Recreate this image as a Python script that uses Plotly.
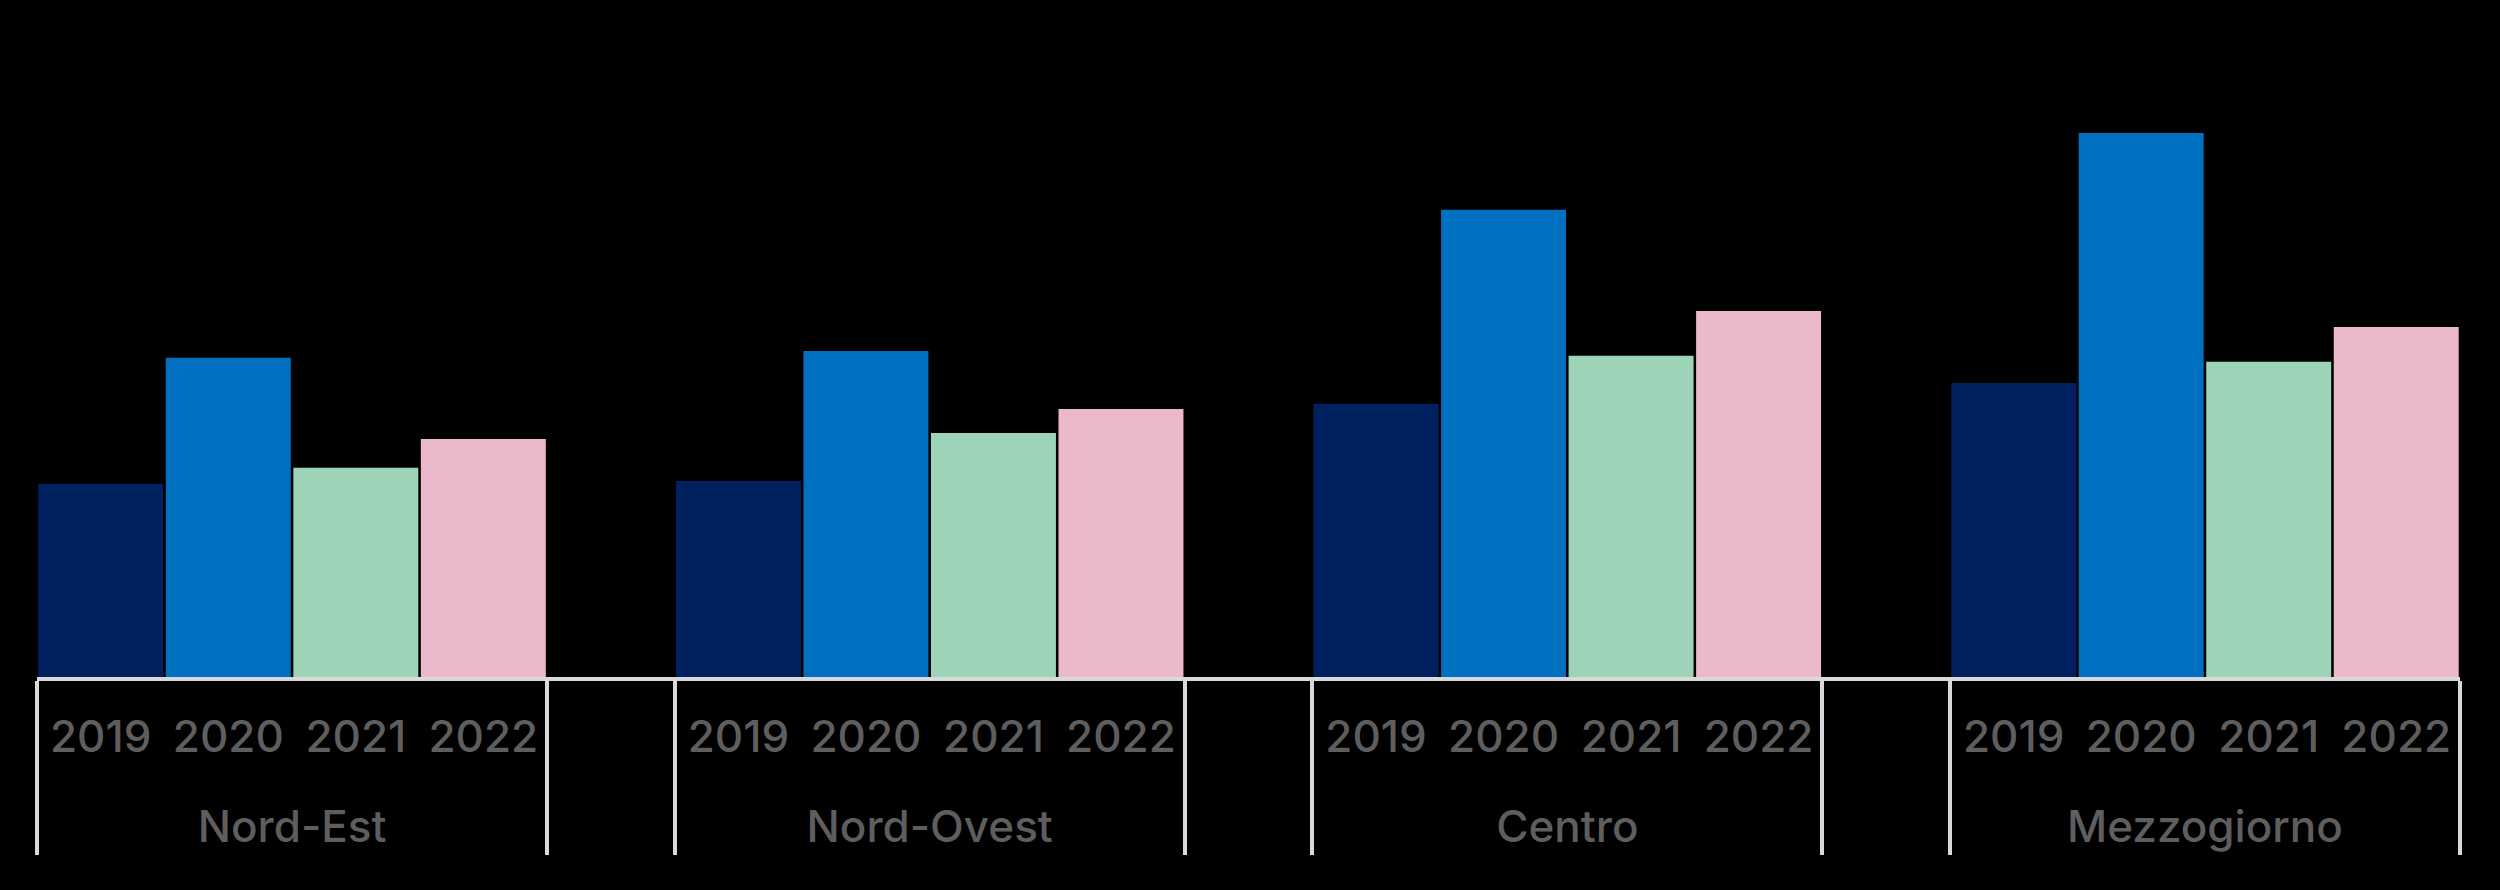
import plotly.graph_objects as go

regions = ["Nord-Est", "Nord-Ovest", "Centro", "Mezzogiorno"]
years = ["2019", "2020", "2021", "2022"]
year_colors = ["#002060", "#0070C0", "#9DD3B6", "#ECB8CC"]

# values per year, one entry per region (order of `regions`)
v2019 = [4.83, 4.90, 6.83, 7.35]
v2020 = [7.98, 8.15, 11.68, 13.60]
v2021 = [5.23, 6.10, 8.03, 7.88]
v2022 = [5.95, 6.70, 9.15, 8.75]
series = [v2019, v2020, v2021, v2022]

LBL = "<span style='font-size:44px'>{}</span>"
PAD = "<br><span style='font-size:100px'>\u00a0</span>"

lvl0, lvl1, yv, cols = [], [], [], []
for i, r in enumerate(regions):
    for j, yr in enumerate(years):
        lvl0.append(LBL.format(r))
        lvl1.append(LBL.format(yr) + PAD)
        yv.append(series[j][i])
        cols.append(year_colors[j])
    if i < len(regions) - 1:
        blank = "\u00a0" * (i + 1)
        lvl0.append(blank)
        lvl1.append(blank)
        yv.append(None)
        cols.append("black")

fig = go.Figure(go.Bar(x=[lvl0, lvl1], y=yv, marker=dict(color=cols, line=dict(width=0)),
                       hoverinfo="y"))

fig.update_layout(
    width=2500, height=890,
    paper_bgcolor="black", plot_bgcolor="black",
    margin=dict(l=37, r=40, t=17, b=213),
    bargap=0.02,
    showlegend=False,
    font=dict(family="Inter, Liberation Sans, Arial, sans-serif", size=32, color="#5e5e5e"),
)
fig.update_xaxes(
    type="multicategory",
    showline=True, linecolor="#d9d9d9", linewidth=4,
    dividercolor="#d9d9d9", dividerwidth=4,
    showgrid=False, zeroline=False,
    ticks="", ticklabelstandoff=33,
    tickfont=dict(family="Inter, Liberation Sans, Arial, sans-serif", size=32,
                  color="#5e5e5e", weight=500),
)
fig.update_yaxes(visible=False, range=[0, 16.5], showgrid=False, zeroline=False)

fig.write_html(
    "out.html",
    config={"displayModeBar": False},
    post_script="document.body.style.margin='0';document.body.style.background='black';",
)
